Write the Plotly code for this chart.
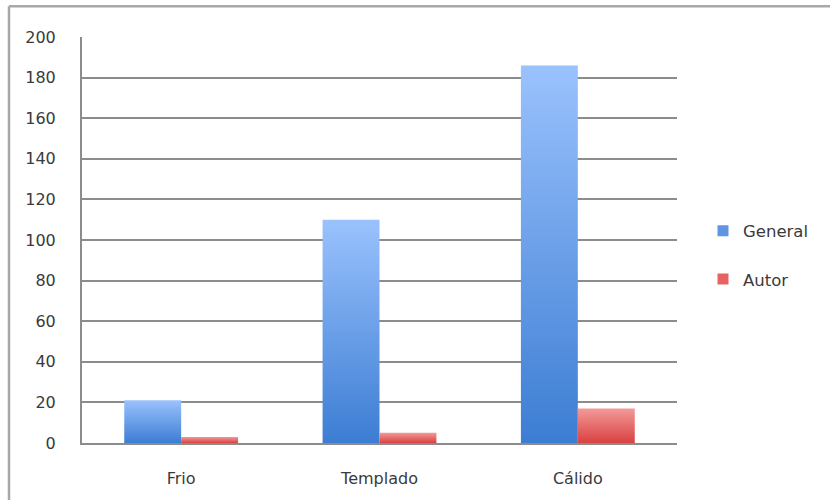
import plotly.graph_objects as go

# Data
categories = ["Frio", "Templado", "Cálido"]
general = [21, 110, 186]
autor = [3, 5, 17]
y_ticks = [0, 20, 40, 60, 80, 100, 120, 140, 160, 180, 200]

series = [
    ("General", general, "#3c7dd3", "#9ac2fd", "#5f95e3"),
    ("Autor", autor, "#d8413f", "#f39a99", "#e56463"),
]

BAR_W = 0.287  # width of one bar in category units
FONT = "DejaVu Sans"
TEXT_COLOR = "#3a3a3a"

fig = go.Figure()

for s_idx, (name, values, c_bottom, c_top, c_mid) in enumerate(series):
    offset = (s_idx - 0.5) * BAR_W
    for i, v in enumerate(values):
        x0 = i + offset - BAR_W / 2
        x1 = i + offset + BAR_W / 2
        fig.add_trace(go.Scatter(
            x=[x0, x1, x1, x0, x0],
            y=[0, 0, v, v, 0],
            mode="none",
            fill="toself",
            fillgradient=dict(type="vertical",
                              colorscale=[[0, c_bottom], [1, c_top]]),
            showlegend=False,
            hoverinfo="text",
            text=f"{categories[i]} – {name}: {v}",
            legendgroup=name,
        ))
    # legend swatch
    fig.add_trace(go.Scatter(
        x=[None], y=[None], mode="markers", name=name,
        marker=dict(symbol="square", size=11, color=c_mid),
        legendgroup=name, showlegend=True,
    ))

ML, MR, MT, MB = 82, 153, 37, 55
W, H = 830, 500
pw, ph = W - ML - MR, H - MT - MB

# chart frame (top and left edges)
fx = (9 - ML) / pw
fy = (H - MB - 6) / ph
frame = dict(color="#a8a8a8", width=2.5)
fig.add_shape(type="line", xref="paper", yref="paper",
              x0=fx, x1=1.5, y0=fy, y1=fy, line=frame)
fig.add_shape(type="line", xref="paper", yref="paper",
              x0=fx, x1=fx, y0=-0.5, y1=fy, line=frame)

fig.update_layout(
    width=W, height=H,
    margin=dict(l=ML, r=MR, t=MT, b=MB),
    paper_bgcolor="white", plot_bgcolor="white",
    font=dict(family=FONT, size=16, color=TEXT_COLOR),
    legend=dict(x=(703 - ML) / pw, xanchor="left",
                y=(H - MB - 256) / ph, yanchor="middle",
                tracegroupgap=24, font=dict(size=16.5, color=TEXT_COLOR),
                bgcolor="rgba(0,0,0,0)"),
    xaxis=dict(
        range=[-0.5, 2.5],
        tickmode="array", tickvals=[0, 1, 2], ticktext=categories,
        showgrid=False, zeroline=False,
        showline=True, linecolor="#8c8c8c", linewidth=2,
        ticks="", ticklabelstandoff=20, fixedrange=True,
    ),
    yaxis=dict(
        range=[0, 200],
        tickmode="array", tickvals=y_ticks,
        showgrid=True, gridcolor="#8c8c8c", gridwidth=2,
        zeroline=False,
        showline=True, linecolor="#8c8c8c", linewidth=2,
        ticks="", ticklabelstandoff=21, fixedrange=True,
    ),
)

fig.write_html("out.html")
